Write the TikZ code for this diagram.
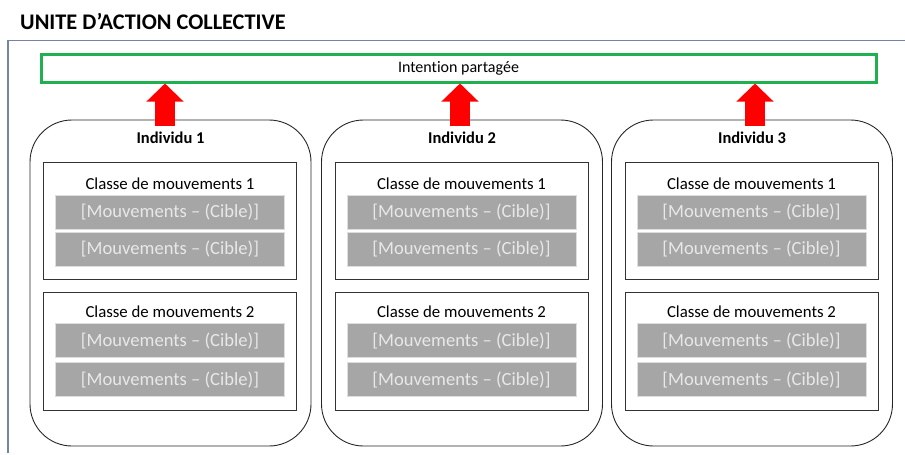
\documentclass[tikz,border=0pt]{standalone}
\usepackage{fontspec}
\setmainfont{Carlito}[Ligatures={NoCommon}]
\usetikzlibrary{arrows.meta}
\definecolor{framec}{HTML}{7484A8}
\definecolor{greenc}{HTML}{1FB04F}
\definecolor{barfill}{HTML}{A6A6A6}
\definecolor{bartext}{HTML}{E8E8E8}
\definecolor{arrowred}{HTML}{FF0000}
\begin{document}
\begin{tikzpicture}[x=1pt,y=-1pt,
  indiv/.style={draw=black!85, line width=0.9pt, rounded corners=42pt, minimum width=281pt, minimum height=326pt, inner sep=0pt},
  classbox/.style={draw=black!80, line width=0.9pt, minimum width=253pt, minimum height=117pt, inner sep=0pt},
  bar/.style={fill=barfill, draw=black!13, line width=0.8pt, minimum width=229pt, minimum height=34pt, inner sep=0pt, text=bartext, font=\fontsize{18.6}{19}\selectfont},
  classlabel/.style={font=\fontsize{16.8}{17}\selectfont, inner sep=0pt},
  indlabel/.style={font=\bfseries\fontsize{16.5}{17}\selectfont, inner sep=0pt},
  intentbox/.style={draw=greenc, line width=3pt, minimum width=835pt, minimum height=28pt, inner sep=0pt, font=\fontsize{16}{17}\selectfont},
  bigarrow/.style={draw=arrowred, line width=20pt, -{Triangle[width=36pt,length=18pt]}}
]
\useasboundingbox (0,0) rectangle (905,455);
\node[anchor=base west, font=\bfseries\fontsize{22.3}{24}\selectfont, inner sep=0pt] (title) at (20,29) {UNITE D’ACTION COLLECTIVE};
\draw[framec, line width=1.5pt] (8,453) -- (8,40.5) -- (905,40.5);
\node[intentbox] (intent) at (458.5,68) {Intention partagée};
\foreach \i/\cx/\ax in {1/170.5/165, 2/462/460, 3/752/755} {
  \node[indiv] (ind\i) at (\cx,283) {};
  \node[indlabel] (indlab\i) at (\cx,138) {Individu \i};
  \node[classbox] (cls\i a) at (\cx-0.5,220.5) {};
  \node[classlabel] (clslab\i a) at (\cx-0.5,184) {Classe de mouvements 1};
  \node[bar] (bar\i a1) at (\cx-0.5,212) {[Mouvements – (Cible)]};
  \node[bar] (bar\i a2) at (\cx-0.5,249) {[Mouvements – (Cible)]};
  \node[classbox, minimum height=118pt] (cls\i b) at (\cx-0.5,351) {};
  \node[classlabel] (clslab\i b) at (\cx-0.5,312) {Classe de mouvements 2};
  \node[bar] (bar\i b1) at (\cx-0.5,340.5) {[Mouvements – (Cible)]};
  \node[bar] (bar\i b2) at (\cx-0.5,379.5) {[Mouvements – (Cible)]};
  \coordinate (as\i) at (\ax,126);
  \draw[bigarrow] (as\i) -- (as\i |- intent.south);
}
\end{tikzpicture}
\end{document}
